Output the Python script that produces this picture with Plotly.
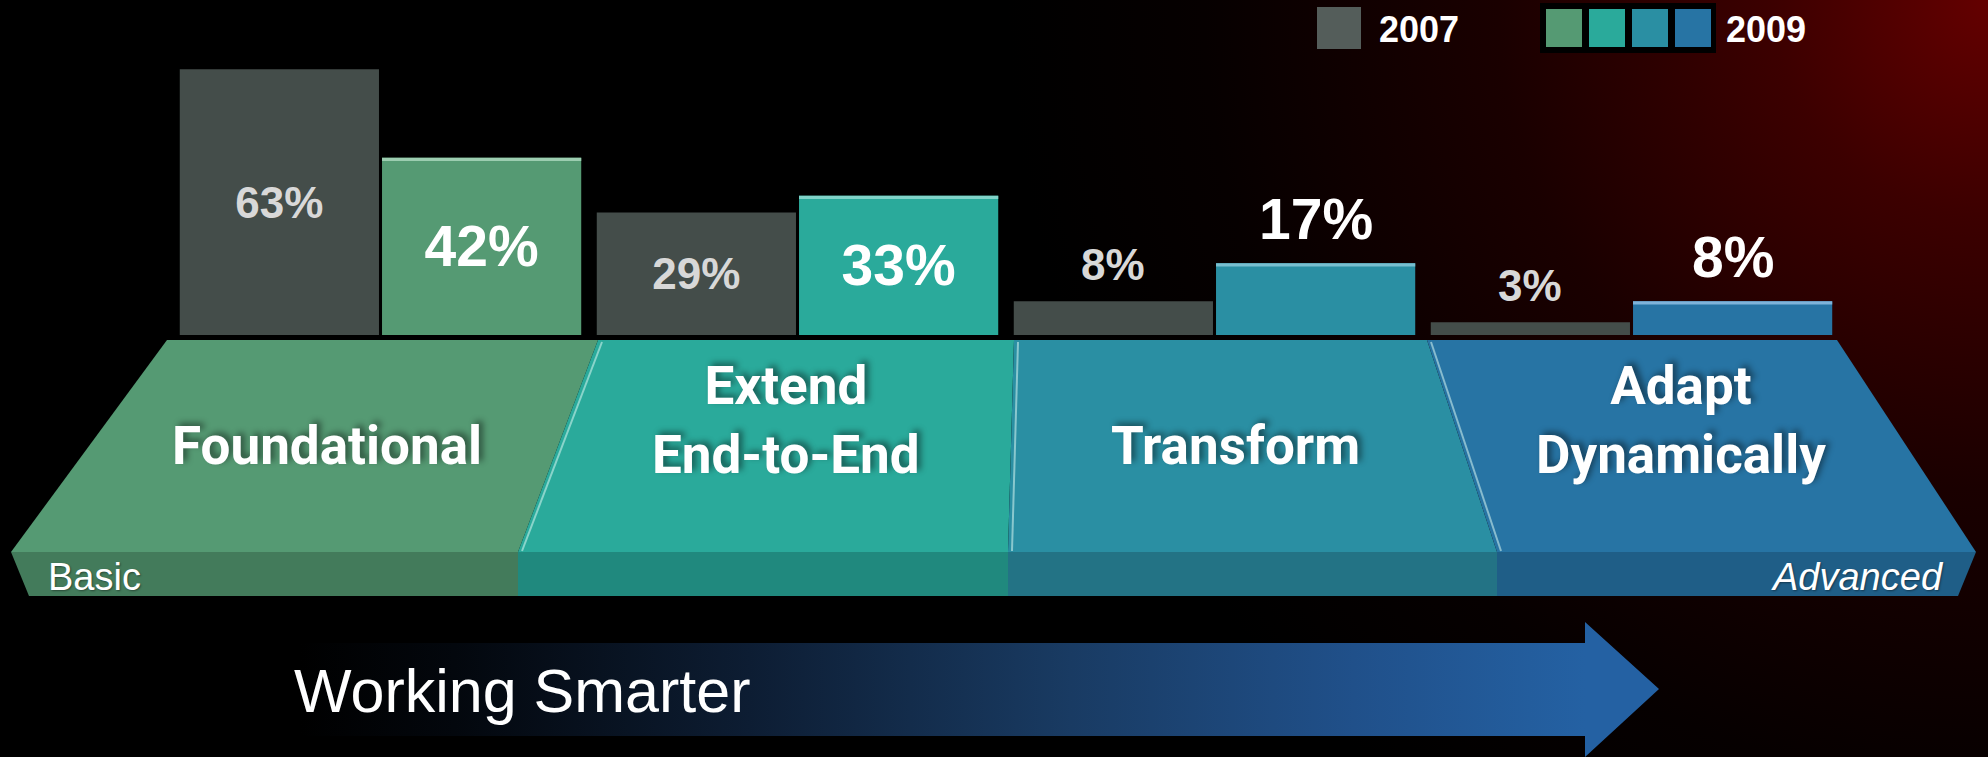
import plotly.graph_objects as go

# ---------------- data ----------------
categories = ["Foundational", "Extend<br>End-to-End", "Transform", "Adapt<br>Dynamically"]
years = ["2007", "2009"]
values_2007 = [63, 29, 8, 3]
values_2009 = [42, 33, 17, 8]
edge_left = "Basic"
edge_right = "Advanced"
arrow_label = "Working Smarter"

# ---------------- style ----------------
W, H = 1988, 757
color_2007 = "#444d4a"
legend_2007_color = "#545d5a"
colors_2009 = ["#559a73", "#2aaa9b", "#2a8fa3", "#2774a4"]
colors_highlight = ["#9ccdb0", "#7fd3c8", "#78bfd0", "#7fb3da"]
colors_front = ["#437b5b", "#20897e", "#237385", "#1f5e87"]
label_2007_color = "#d8d8d8"
COND = "Roboto, Liberation Sans, Arial, sans-serif"
SANS = "Liberation Sans, Arial, sans-serif"

# bar subplot geometry (pixels)
bar_left, bar_right = 172, 1840
bar_base_px = 335
px_per_pct = 4.22
bargap, bargroupgap = 0.03, 0.015
highlight_pct = 0.75

# band geometry (pixels, y from top)
top_y, mid_y, bot_y = 340, 552, 596
top_xs = [167, 598, 1014, 1427, 1837]
mid_xs = [11, 518, 1008, 1497, 1976]
bot_left, bot_right = 29, 1958

fig = go.Figure()

# --- background red glow (pixel axes x/y) ---
R = 980
fig.add_trace(go.Scatter(
    x=[W - R, W + R, W + R, W - R, W - R], y=[-R, -R, R, R, -R],
    mode="lines", line=dict(width=0), fill="toself",
    fillgradient=dict(type="radial",
                      colorscale=[[0, "rgb(100,0,0)"], [0.22, "rgb(60,0,0)"],
                                  [0.5, "rgb(26,0,0)"], [0.8, "rgb(6,0,0)"], [1, "rgb(0,0,0)"]]),
    hoverinfo="skip", showlegend=False, xaxis="x", yaxis="y"))

# --- band: top faces and front faces ---
for i in range(4):
    xs = [top_xs[i], top_xs[i + 1], mid_xs[i + 1], mid_xs[i], top_xs[i]]
    ys = [top_y, top_y, mid_y, mid_y, top_y]
    fig.add_trace(go.Scatter(x=xs, y=ys, mode="lines", line=dict(width=0),
                             fill="toself", fillcolor=colors_2009[i],
                             hoverinfo="skip", showlegend=False, xaxis="x", yaxis="y"))
    fl = bot_left if i == 0 else mid_xs[i]
    fr = bot_right if i == 3 else mid_xs[i + 1]
    xs = [mid_xs[i], mid_xs[i + 1], fr, fl, mid_xs[i]]
    ys = [mid_y, mid_y, bot_y, bot_y, mid_y]
    fig.add_trace(go.Scatter(x=xs, y=ys, mode="lines", line=dict(width=0),
                             fill="toself", fillcolor=colors_front[i],
                             hoverinfo="skip", showlegend=False, xaxis="x", yaxis="y"))

# divider highlights
for i in range(1, 4):
    fig.add_trace(go.Scatter(x=[top_xs[i] + 4, mid_xs[i] + 4], y=[top_y + 2, mid_y - 1],
                             mode="lines", line=dict(width=2, color="rgba(215,245,240,0.55)"),
                             hoverinfo="skip", showlegend=False, xaxis="x", yaxis="y"))

# --- arrow ---
ay0, ay1, ahead0, ahead1, acy = 643, 736, 622, 757, 689
ax0, axb, axt = 300, 1585, 1659
fig.add_trace(go.Scatter(
    x=[ax0, axb, axb, axt, axb, axb, ax0, ax0],
    y=[ay0, ay0, ahead0, acy, ahead1, ay1, ay1, ay0],
    mode="lines", line=dict(width=0), fill="toself",
    fillgradient=dict(type="horizontal", start=ax0, stop=axb,
                      colorscale=[[0, "#000000"], [0.12, "#03070d"], [0.35, "#0d1d33"],
                                  [0.6, "#193b63"], [0.82, "#20508a"], [1, "#2461a3"]]),
    hoverinfo="skip", showlegend=False, xaxis="x", yaxis="y"))

# --- bars (x2/y2) ---
inside_2007 = [f"{v}%" if v >= 20 else "" for v in values_2007]
inside_2009 = [f"{v}%" if v >= 20 else "" for v in values_2009]
fig.add_trace(go.Bar(
    name=years[0], x=categories, y=values_2007, offsetgroup="a",
    marker=dict(color=color_2007, line=dict(width=0)),
    text=inside_2007, textposition="inside", insidetextanchor="middle", constraintext="none",
    textfont=dict(family=SANS, size=44, color=label_2007_color, weight="bold"),
    hoverinfo="skip", showlegend=False, xaxis="x2", yaxis="y2"))
fig.add_trace(go.Bar(
    name=years[1], x=categories, y=values_2009, offsetgroup="b",
    marker=dict(color=colors_2009, line=dict(width=0)),
    text=inside_2009, textposition="inside", insidetextanchor="middle", constraintext="none",
    textfont=dict(family=SANS, size=57, color="white", weight="bold"),
    hoverinfo="skip", showlegend=False, xaxis="x2", yaxis="y2"))
# thin light edge on top of the 2009 bars
fig.add_trace(go.Bar(
    x=categories, y=[highlight_pct] * len(values_2009),
    base=[v - highlight_pct for v in values_2009], offsetgroup="b",
    marker=dict(color=colors_highlight, line=dict(width=0)),
    hoverinfo="skip", showlegend=False, xaxis="x2", yaxis="y2"))

annotations = []
# outside labels for short bars
cat_px = (bar_right - bar_left) / len(categories)
slot = cat_px * (1 - bargap) / 2
for vals, sign, size, col in [(values_2007, -1, 44, label_2007_color), (values_2009, 1, 57, "white")]:
    for c, v in zip(categories, vals):
        if v < 20:
            annotations.append(dict(
                x=c, y=v, xref="x2", yref="y2", text=f"{v}%", showarrow=False,
                xshift=sign * slot / 2, yanchor="bottom", yshift=10,
                font=dict(family=SANS, size=size, color=col, weight="bold")))

# segment labels
label_frac = 0.47
one_line_y = 446
two_line_y = 420
shadow = "4px -3px 6px rgba(0,0,0,0.45)"
for i, c in enumerate(categories):
    cx_top = (top_xs[i] + top_xs[i + 1]) / 2
    cx_mid = (mid_xs[i] + mid_xs[i + 1]) / 2
    cx = cx_top + (cx_mid - cx_top) * label_frac
    yy = two_line_y if "<br>" in c else one_line_y
    annotations.append(dict(
        x=cx, y=yy, xref="x", yref="y", text=c, showarrow=False,
        xanchor="center", yanchor="middle", align="center",
        font=dict(family=COND, size=53, color="white", weight="bold", shadow=shadow)))

annotations.append(dict(x=46, y=577, xref="x", yref="y", text=edge_left, showarrow=False,
                        xanchor="left", yanchor="middle",
                        font=dict(family=SANS, size=38, color="white", shadow="1px 1px 2px rgba(0,0,0,0.4)")))
annotations.append(dict(x=1946, y=577, xref="x", yref="y", text=edge_right, showarrow=False,
                        xanchor="right", yanchor="middle",
                        font=dict(family=SANS, size=38, color="white", style="italic",
                                  shadow="1px 1px 2px rgba(0,0,0,0.4)")))
annotations.append(dict(x=292, y=691, xref="x", yref="y", text=arrow_label, showarrow=False,
                        xanchor="left", yanchor="middle",
                        font=dict(family=SANS, size=61, color="white")))

# legend (custom)
shapes = []
shapes.append(dict(type="rect", xref="x", yref="y", x0=1317, x1=1361, y0=7, y1=49,
                   fillcolor=legend_2007_color, line=dict(width=0), layer="above"))
shapes.append(dict(type="rect", xref="x", yref="y", x0=1540, x1=1716, y0=3, y1=53,
                   fillcolor="#000000", line=dict(width=0), layer="above"))
sw_x0 = 1546
for i, col in enumerate(colors_2009):
    x0 = sw_x0 + i * 43
    shapes.append(dict(type="rect", xref="x", yref="y", x0=x0, x1=x0 + 36, y0=9, y1=47,
                       fillcolor=col, line=dict(width=0), layer="above"))
annotations.append(dict(x=1377, y=29, xref="x", yref="y", text=years[0], showarrow=False,
                        xanchor="left", yanchor="middle",
                        font=dict(family=SANS, size=36, color="white", weight="bold")))
annotations.append(dict(x=1724, y=29, xref="x", yref="y", text=years[1], showarrow=False,
                        xanchor="left", yanchor="middle",
                        font=dict(family=SANS, size=36, color="white", weight="bold")))

fig.update_layout(
    width=W, height=H, margin=dict(l=0, r=0, t=0, b=0),
    paper_bgcolor="#000000", plot_bgcolor="rgba(0,0,0,0)",
    barmode="group", bargap=bargap, bargroupgap=bargroupgap,
    xaxis=dict(range=[0, W], domain=[0, 1], visible=False, fixedrange=True),
    yaxis=dict(range=[H, 0], domain=[0, 1], visible=False, fixedrange=True),
    xaxis2=dict(type="category", domain=[bar_left / W, bar_right / W], anchor="y2",
                visible=False, fixedrange=True),
    yaxis2=dict(range=[0, bar_base_px / px_per_pct], domain=[(H - bar_base_px) / H, 1],
                anchor="x2", visible=False, fixedrange=True),
    annotations=annotations, shapes=shapes, showlegend=False,
)

fig.write_html(
    "out.html",
    config={"displayModeBar": False},
    post_script="document.body.style.margin='0';document.body.style.overflow='hidden';",
)
